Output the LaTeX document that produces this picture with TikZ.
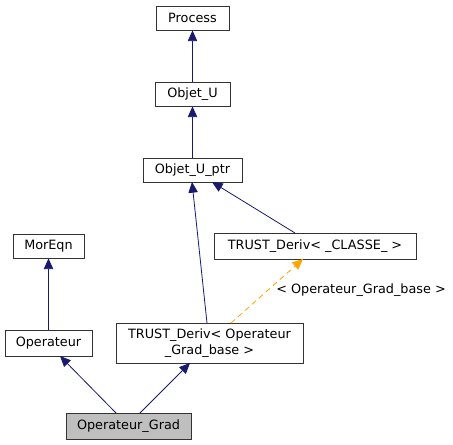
\documentclass[tikz,border=0pt]{standalone}
\usepackage{fontspec}
\setmainfont{DejaVu Sans}
\usetikzlibrary{arrows.meta}
\definecolor{edgeblue}{RGB}{25,25,112}
\definecolor{tmplorange}{RGB}{255,165,0}
\definecolor{gradfill}{RGB}{191,191,191}
\begin{document}
\begin{tikzpicture}[x=0.75pt,y=-0.75pt,
  lbl/.style={font=\fontsize{9.6}{11.5}\selectfont},
  box/.style={draw=black!80,fill=white,line width=0.6pt,inner sep=0pt,lbl,align=center},
  edge/.style={color=edgeblue,line width=0.6pt,-{Triangle[length=8pt,width=7pt]}},
  tedge/.style={color=tmplorange,line width=0.6pt,dash pattern=on 4pt off 3pt,-{Triangle[length=8pt,width=7pt]}}]
\useasboundingbox (0,0) rectangle (453,445);
\node[box,minimum width=73*0.75pt,minimum height=24*0.75pt] (proc) at (192.5,18) {Process};
\node[box,minimum width=75*0.75pt,minimum height=24*0.75pt] (obju) at (192.5,94) {Objet\_U};
\node[box,minimum width=99*0.75pt,minimum height=24*0.75pt] (ptr) at (192.5,170) {Objet\_U\_ptr};
\node[box,minimum width=71*0.75pt,minimum height=24*0.75pt] (mor) at (48.5,246) {MorEqn};
\node[box,minimum width=202*0.75pt,minimum height=26*0.75pt] (tdc) at (315,246) {TRUST\_Deriv< \_CLASSE\_ >};
\node[box,minimum width=87*0.75pt,minimum height=26*0.75pt] (op) at (48.5,343) {Operateur};
\node[box,minimum width=187*0.75pt,minimum height=40*0.75pt] (tdo) at (209.5,343) {TRUST\_Deriv< Operateur\\\_Grad\_base >};
\node[box,fill=gradfill,minimum width=125*0.75pt,minimum height=26*0.75pt] (grad) at (128.5,426) {Operateur\_Grad};
\coordinate (ptrb1) at (192,182);
\coordinate (ptrb2) at (212,182);
\coordinate (tdot1) at (207,323);
\coordinate (tdot2) at (231,323);
\coordinate (tdcb) at (303,259);
\coordinate (tdct) at (295,233);
\coordinate (opb) at (60,356);
\coordinate (tdob) at (190,363);
\coordinate (gt1) at (116,413);
\coordinate (gt2) at (140,413);
\draw[edge] (obju) -- (proc);
\draw[edge] (ptr) -- (obju);
\draw[edge] (mor.north |- op.north) -- (mor);
\draw[edge] (tdot1) -- (ptrb1);
\draw[edge] (tdct) -- (ptrb2);
\draw[tedge] (tdot2) -- (tdcb);
\node[lbl,anchor=west,inner sep=0pt] (tlabel) at (276,290) {< Operateur\_Grad\_base >};
\draw[edge] (gt1) -- (opb);
\draw[edge] (gt2) -- (tdob);
\end{tikzpicture}
\end{document}
